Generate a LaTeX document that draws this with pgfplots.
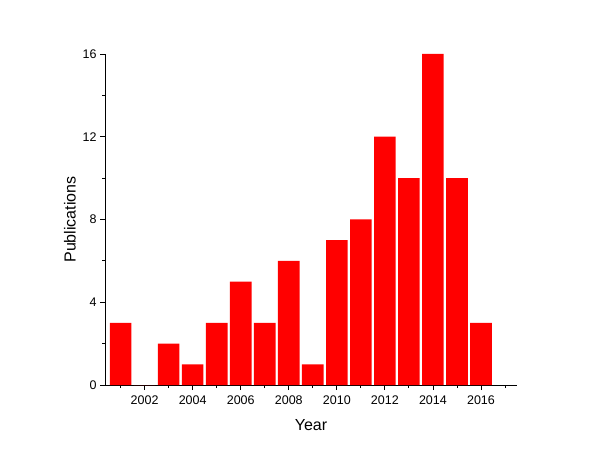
\documentclass[border=0pt]{standalone}
\usepackage{fontspec}
\setmainfont{Liberation Sans}
\usepackage{pgfplots}
\pgfplotsset{compat=1.18}
\definecolor{barred}{HTML}{FF0000}

\begin{document}
\begin{tikzpicture}
\useasboundingbox (0,0) rectangle (600bp,462bp);
\begin{axis}[
  at={(105bp,77bp)}, anchor=south west,
  scale only axis, width=412bp, height=331bp,
  xmin=2000.35, xmax=2017.5, ymin=0, ymax=16,
  axis x line*=bottom, axis y line*=left,
  axis line style={-, black, line width=0.8bp},
  xtick={2002,2004,...,2016}, minor xtick={2001,2003,...,2017},
  ytick={0,4,...,16}, minor ytick={2,6,10,14},
  tick align=outside,
  major tick length=5bp, minor tick length=3bp,
  tick style={black, line width=0.8bp},
  xticklabel style={/pgf/number format/1000 sep={}, yshift=-2bp},
  /pgf/number format/assume math mode=true,
  tick label style={font=\fontsize{12.5bp}{15bp}\selectfont, text=black},
  xlabel={Year}, ylabel={Publications},
  label style={font=\fontsize{16bp}{19bp}\selectfont},
  xlabel style={at={(axis description cs:0.5,-0.121)}, anchor=center},
  ylabel style={at={(axis description cs:-0.085,0.5)}, anchor=center, rotate=0},
  clip=false,
]
\addplot[ybar, bar width=0.9, fill=barred, draw=none] coordinates {
  (2001,3) (2002,0) (2003,2) (2004,1) (2005,3) (2006,5) (2007,3) (2008,6)
  (2009,1) (2010,7) (2011,8) (2012,12) (2013,10) (2014,16) (2015,10) (2016,3)};
\end{axis}
\end{tikzpicture}
\end{document}
